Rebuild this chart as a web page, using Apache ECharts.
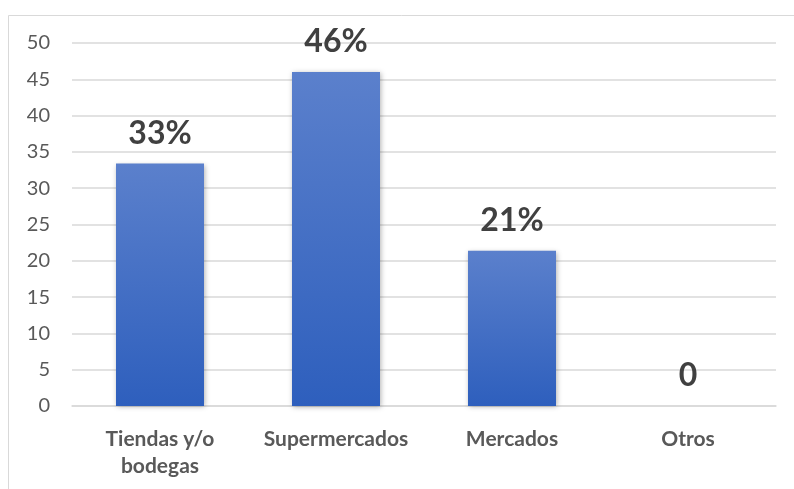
<!DOCTYPE html>
<html>
<head>
<meta charset="utf-8">
<script src="https://cdn.jsdelivr.net/npm/echarts@6/dist/echarts.min.js"></script>
<style>html,body{margin:0;padding:0;background:#fff;}#c{width:794px;height:489px;}</style>
</head>
<body>
<div id="c"></div>
<script>
var categories = ['Tiendas y/o\nbodegas', 'Supermercados', 'Mercados', 'Otros'];
var values = [33.4, 46, 21.4, 0];
var valueLabels = ['33%', '46%', '21%', '0'];
var yTicks = [0, 5, 10, 15, 20, 25, 30, 35, 40, 45, 50];

var chart = echarts.init(document.getElementById('c'));
chart.setOption({
  animation: false,
  backgroundColor: '#fff',
  graphic: [{
    type: 'rect', shape: {x: 8.5, y: 15.5, width: 800, height: 500},
    style: {fill: 'none', stroke: '#d9d9d9', lineWidth: 1}, silent: true
  }],
  grid: {left: 72, right: 18, top: 43, bottom: 83},
  xAxis: {
    type: 'category', data: categories,
    axisLine: {lineStyle: {color: '#d9d9d9', width: 1.5}},
    axisTick: {show: false},
    axisLabel: {interval: 0, hideOverlap: false, color: '#595959', fontFamily: 'Lato', fontWeight: 'bold', fontSize: 21, lineHeight: 27, margin: 20}
  },
  yAxis: {
    type: 'value', min: yTicks[0], max: yTicks[yTicks.length - 1], interval: 5,
    axisLine: {show: false}, axisTick: {show: false},
    splitLine: {lineStyle: {color: '#d9d9d9', width: 1.5}},
    axisLabel: {color: '#595959', fontFamily: 'Lato', fontSize: 20, margin: 22}
  },
  series: [{
    type: 'bar', data: values, barWidth: '50%',
    itemStyle: {
      color: new echarts.graphic.LinearGradient(0, 0, 0, 1, [
        {offset: 0, color: '#5B80CC'}, {offset: 1, color: '#2E5FBD'}
      ]),
      shadowColor: 'rgba(0,0,0,0.3)', shadowBlur: 5, shadowOffsetX: 1, shadowOffsetY: 1
    },
    label: {
      show: true, position: 'top', distance: 14,
      formatter: function (p) { return valueLabels[p.dataIndex]; },
      color: '#404040', fontFamily: 'Lato', fontWeight: 'bold', fontSize: 32
    }
  }]
});
</script>
</body>
</html>
